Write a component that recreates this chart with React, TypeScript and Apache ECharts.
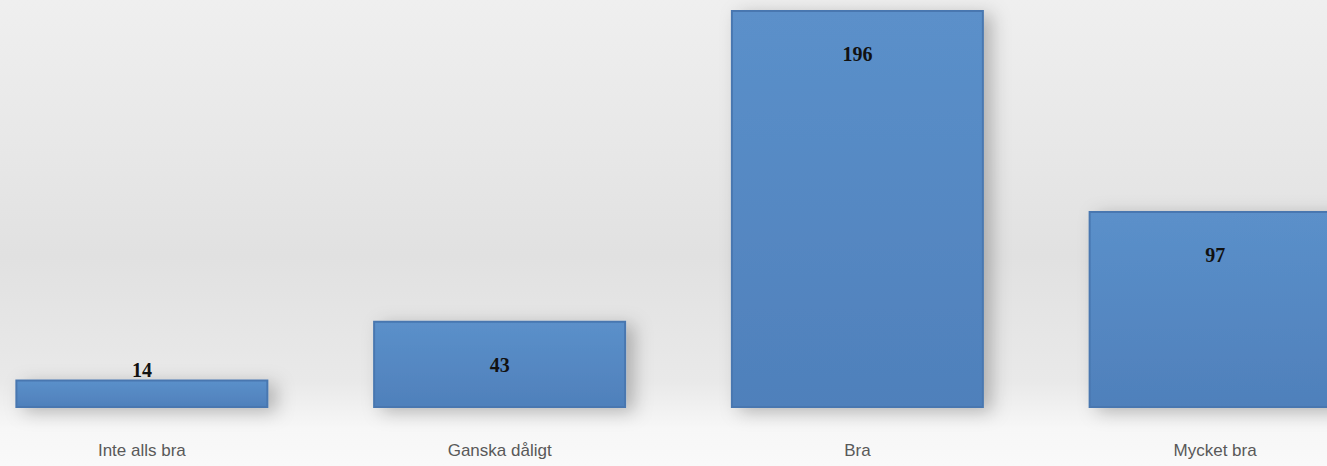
import React, { useEffect, useRef } from "react";
import * as echarts from "echarts";

const categories = ["Inte alls bra", "Ganska dåligt", "Bra", "Mycket bra"];
const values = [14, 43, 196, 97];

export default function App() {
  const ref = useRef<HTMLDivElement>(null);
  useEffect(() => {
    if (!ref.current) return;
    const chart = echarts.init(ref.current, undefined, { renderer: "svg" });
    const barColor = new echarts.graphic.LinearGradient(0, 0, 0, 1, [
      { offset: 0, color: "#5b90ca" },
      { offset: 1, color: "#4f80bb" },
    ]);
    chart.setOption({
      animation: false,
      backgroundColor: new echarts.graphic.LinearGradient(0, 0, 0, 1, [
        { offset: 0, color: "#efefef" },
        { offset: 0.3, color: "#e8e8e8" },
        { offset: 0.55, color: "#e1e1e1" },
        { offset: 0.82, color: "#e9e9e9" },
        { offset: 0.92, color: "#f7f7f7" },
        { offset: 1, color: "#f9f9f9" },
      ]),
      grid: { left: 0, right: 0, top: 10, bottom: 58, containLabel: false },
      xAxis: {
        type: "category",
        data: categories,
        axisLine: { show: false },
        axisTick: { show: false },
        axisLabel: {
          margin: 34,
          fontSize: 17,
          color: "#595959",
          fontFamily: "Liberation Sans, Arial, sans-serif",
        },
      },
      yAxis: {
        type: "value",
        min: 0,
        max: 196,
        show: false,
        splitLine: { show: false },
      },
      series: [
        {
          type: "bar",
          barWidth: 253,
          data: values.map((v, i) => ({
            value: v,
            label:
              i === 0
                ? { position: "top", distance: 0 }
                : { position: "insideTop", distance: 34 },
          })),
          itemStyle: {
            color: barColor,
            borderColor: "#4877b0",
            borderWidth: 2,
            shadowColor: "rgba(0,0,0,0.25)",
            shadowBlur: 18,
            shadowOffsetX: 8,
            shadowOffsetY: 4,
          },
          label: {
            show: true,
            fontSize: 20,
            fontWeight: "bold",
            color: "#111",
            fontFamily: "Liberation Serif, Times New Roman, serif",
          },
        },
      ],
    });
    return () => chart.dispose();
  }, []);
  return (
    <div
      ref={ref}
      style={{ position: "fixed", left: -37, top: 0, width: 1431, height: 466 }}
    />
  );
}
